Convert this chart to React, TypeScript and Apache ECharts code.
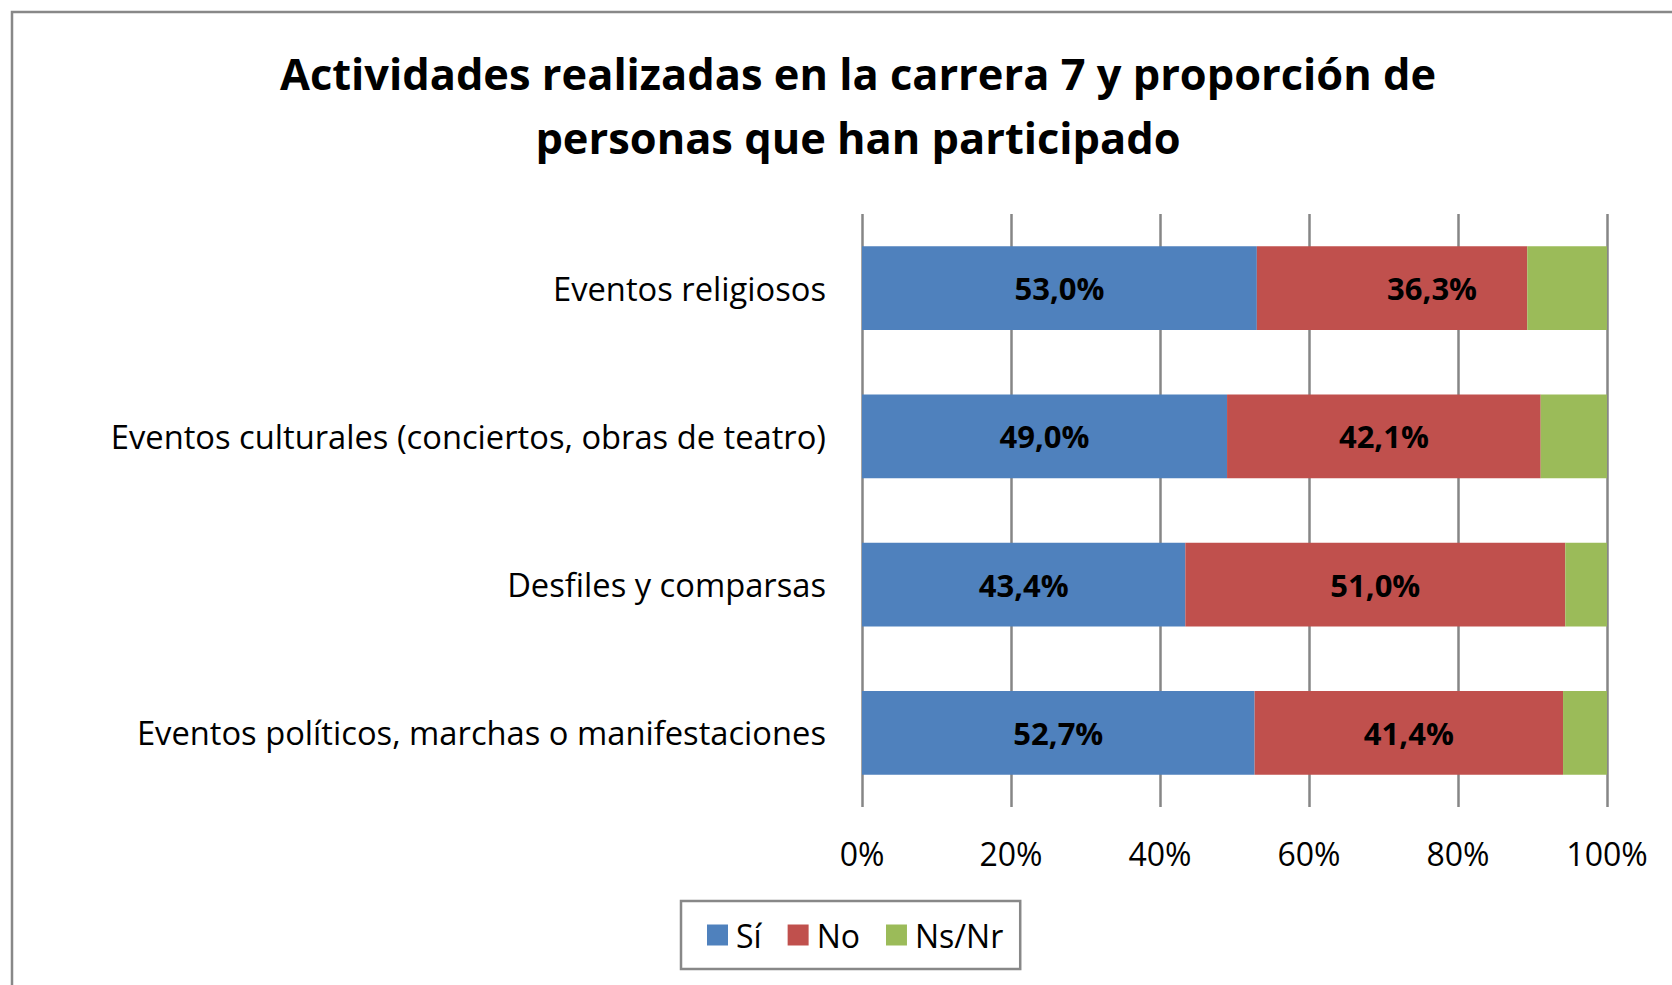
import React, { useEffect, useRef } from "react";
import * as echarts from "echarts";

const categories = [
  "Eventos religiosos",
  "Eventos culturales (conciertos, obras de teatro)",
  "Desfiles y comparsas",
  "Eventos políticos, marchas o manifestaciones",
];
const seriesNames = ["Sí", "No", "Ns/Nr"];
const siValues = [53.0, 49.0, 43.4, 52.7];
const noValues = [36.3, 42.1, 51.0, 41.4];
const nsnrValues = [10.7, 8.9, 5.6, 5.9];
const xTicks = [0, 20, 40, 60, 80, 100];
const colors = ["#4F81BD", "#C0504D", "#9BBB59"];
const titleText = "Actividades realizadas en la carrera 7 y proporción de\npersonas que han participado";

const FONT = "'Open Sans', 'Noto Sans', sans-serif";

const fmt = (v: number) => v.toFixed(1).replace(".", ",") + "%";

export default function App() {
  const ref = useRef<HTMLDivElement>(null);
  useEffect(() => {
    document.body.style.margin = "0";
    const chart = echarts.init(ref.current!, null, { renderer: "svg" });
    const labelStyle = {
      show: true,
      position: "inside",
      color: "#000",
      fontWeight: "bold",
      fontSize: 31,
      fontFamily: FONT,
      formatter: (p: any) => fmt(p.value),
    };
    chart.setOption({
      animation: false,
      backgroundColor: "#fff",
      textStyle: { fontFamily: FONT },
      title: {
        text: titleText,
        left: 853,
        top: 36,
        textAlign: "center",
        textStyle: {
          fontFamily: FONT,
          fontWeight: "bold",
          fontSize: 43.4,
          lineHeight: 64,
          color: "#000",
        },
      },
      graphic: [
        {
          type: "rect",
          shape: { x: 12, y: 12, width: 1700, height: 1000 },
          style: { fill: "none", stroke: "#888", lineWidth: 2.5 },
          silent: true,
        },
      ],
      legend: {
        data: seriesNames,
        left: 681,
        top: 901,
        itemWidth: 21,
        itemHeight: 21,
        itemGap: 26,
        icon: "rect",
        borderColor: "#888",
        borderWidth: 2.5,
        padding: [18, 17, 18, 26],
        textStyle: { fontSize: 32, fontFamily: FONT, color: "#000", padding: [0, 0, 0, 3] },
      },
      grid: { left: 862, right: 65, top: 214, bottom: 178 },
      xAxis: {
        type: "value",
        min: 0,
        max: 100,
        interval: 20,
        axisLine: { show: false },
        axisTick: { show: false },
        splitLine: { show: true, lineStyle: { color: "#868686", width: 2.5 } },
        axisLabel: {
          fontSize: 32,
          fontFamily: FONT,
          color: "#000",
          margin: 30,
          formatter: (v: number) => (xTicks.includes(v) ? v + "%" : ""),
        },
      },
      yAxis: {
        type: "category",
        data: categories,
        inverse: true,
        axisLine: { show: false },
        axisTick: { show: false },
        axisLabel: { fontSize: 32.7, fontFamily: FONT, color: "#000", margin: 36 },
      },
      series: [
        {
          name: seriesNames[0],
          type: "bar",
          stack: "total",
          barCategoryGap: "43.4%",
          itemStyle: { color: colors[0] },
          label: labelStyle,
          data: siValues,
        },
        {
          name: seriesNames[1],
          type: "bar",
          stack: "total",
          itemStyle: { color: colors[1] },
          label: labelStyle,
          data: noValues.map((v, i) =>
            i === 0 ? { value: v, label: { offset: [40, 0] } } : v
          ),
        },
        {
          name: seriesNames[2],
          type: "bar",
          stack: "total",
          itemStyle: { color: colors[2] },
          label: { show: false },
          data: nsnrValues,
        },
      ],
    });
    return () => chart.dispose();
  }, []);
  return (
    <div
      ref={ref}
      style={{ position: "absolute", left: 0, top: 0, width: 1672, height: 985 }}
    />
  );
}
